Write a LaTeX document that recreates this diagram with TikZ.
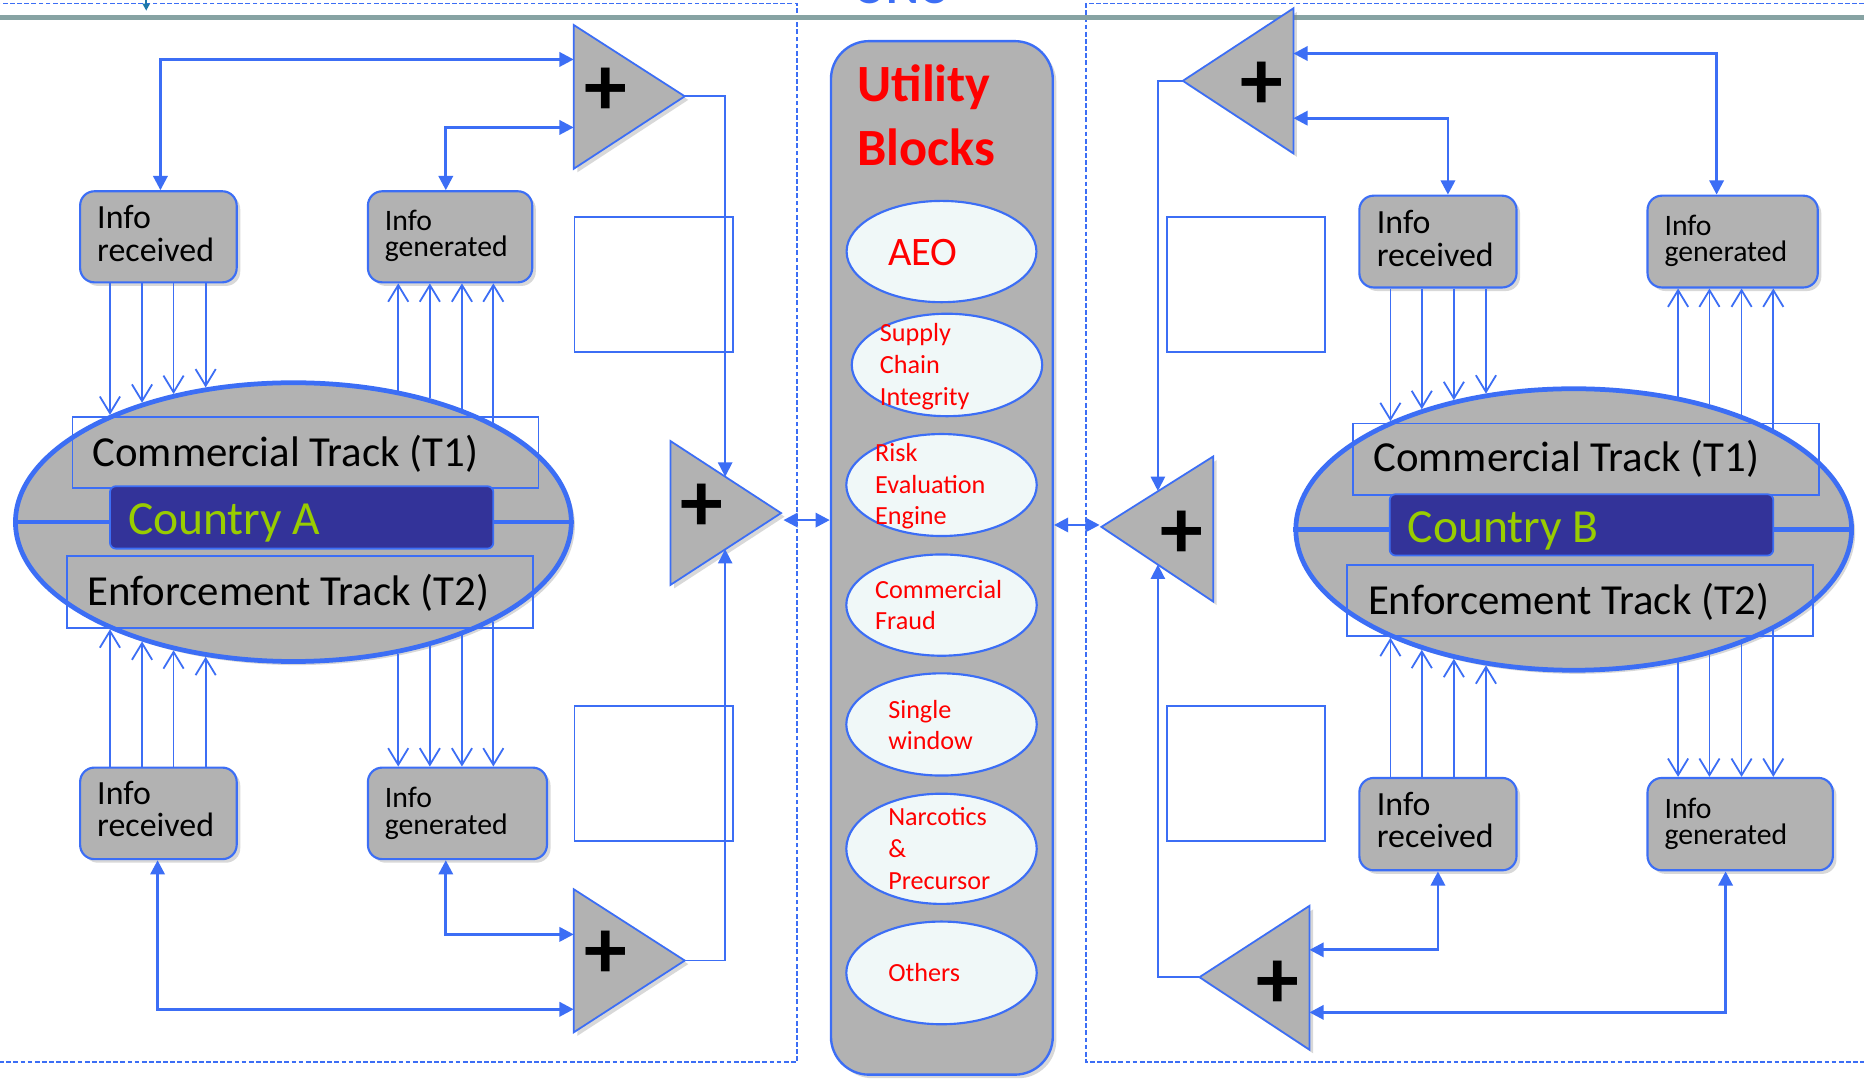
\documentclass[tikz,border=0pt]{standalone}
\usepackage{fontspec}
\setmainfont{Carlito}
\usetikzlibrary{arrows.meta,shadows,shapes.geometric}
\definecolor{lb}{RGB}{60,110,245}
\definecolor{gfill}{RGB}{178,178,178}
\definecolor{navy}{RGB}{51,51,153}
\definecolor{lime}{RGB}{153,204,0}
\definecolor{efill}{RGB}{240,248,248}
\definecolor{topgray}{RGB}{135,163,163}
\definecolor{tealtick}{RGB}{30,120,170}
\begin{document}
\begin{tikzpicture}[x=1pt,y=-1pt,
  shad/.style={drop shadow={shadow xshift=3pt,shadow yshift=-3pt,opacity=0.3}},
  ibox/.style={draw=lb,line width=1.8pt,fill=gfill,rounded corners=12pt,shad,inner sep=0pt},
  trec/.style={draw=lb,line width=1.5pt,inner sep=0pt},
  cbox/.style={draw=lb,line width=1.5pt,fill=navy,rounded corners=5pt,inner sep=0pt},
  bigell/.style={ellipse,draw=lb,line width=4pt,fill=gfill,shad,inner sep=0pt},
  uell/.style={ellipse,draw=lb,line width=1.8pt,fill=efill,inner sep=0pt},
  ubox/.style={draw=lb,line width=2pt,fill=gfill,rounded corners=32pt,shad,inner sep=0pt},
  emptybox/.style={draw=lb,line width=1.5pt,inner sep=0pt},
  tri/.style={draw=lb,line width=1.5pt,fill=gfill,shad},
  plussign/.style={inner sep=0pt,font=\fontsize{72}{72}\selectfont\bfseries},
  dbox/.style={draw=lb,line width=1.2pt,dash pattern=on 4pt off 2pt},
  conn/.style={draw=lb,line width=2.3pt,{Triangle[length=12pt,width=12pt]}-{Triangle[length=12pt,width=12pt]}},
  conn1/.style={draw=lb,line width=1.5pt,-{Triangle[length=12pt,width=12pt]}},
  barb/.style={draw=lb,line width=1.5pt,-{Straight Barb[length=14pt,width=17pt]}},
  itr/.style={anchor=base west,align=left,inner sep=0pt,font=\fontsize{28.5}{27.4}\selectfont},
  itg/.style={anchor=base west,align=left,inner sep=0pt,font=\fontsize{25}{22.3}\selectfont},
  trk/.style={anchor=base west,inner sep=0pt,font=\fontsize{36}{40}\selectfont},
  ctry/.style={anchor=base west,inner sep=0pt,text=lime,font=\fontsize{40}{44}\selectfont},
  utx/.style={anchor=base west,align=left,inner sep=0pt,text=red,font=\fontsize{22}{26.7}\selectfont}
]
\useasboundingbox (0,0) rectangle (1568,908);
\clip (0,0) rectangle (1568,908);
\fill[white] (0,0) rectangle (1568,908);

% frame elements
\draw[dbox] (-10,2.8) rectangle (670.5,893.5);
\draw[dbox] (913.5,2.8) rectangle (1580,893.5);
\node[anchor=base,inner sep=0pt,text=lb,font=\fontsize{42}{42}\selectfont\bfseries] (unc) at (757,3) {UNC};
\draw[topgray,line width=4.2pt] (0,14.7) -- (1568,14.7);
\coordinate (tk1) at (123,-2);
\coordinate (tk2) at (123,9);
\draw[tealtick,line width=1.5pt,-{Triangle[length=6pt,width=6pt]}] (tk1) -- (tk2);

% empty rectangles
\node[emptybox,minimum width=133.5pt,minimum height=113.5pt] (eA1) at (550.1,239.5) {};
\node[emptybox,minimum width=133.5pt,minimum height=113.5pt] (eA2) at (550.1,650.5) {};
\node[emptybox,minimum width=133.5pt,minimum height=113.5pt] (eB1) at (1048.1,239.5) {};
\node[emptybox,minimum width=133.5pt,minimum height=113.5pt] (eB2) at (1048.1,650.5) {};

% utility block
\node[ubox,minimum width=186.6pt,minimum height=869.4pt] (ub) at (792.3,469.3) {};
\node[anchor=base west,align=left,inner sep=0pt,text=red,font=\fontsize{44}{53.3}\selectfont\bfseries] (ubt) at (721,138.8) {Utility\\Blocks};
\node[uell,minimum width=159.7pt,minimum height=85.2pt] (u1) at (792,211.6) {};
\node[uell,minimum width=160.2pt,minimum height=86.2pt] (u2) at (796.6,307) {};
\node[uell,minimum width=160.2pt,minimum height=85.8pt] (u3) at (792,408) {};
\node[uell,minimum width=160.2pt,minimum height=85.2pt] (u4) at (792,509) {};
\node[uell,minimum width=160.2pt,minimum height=86pt] (u5) at (792,609.4) {};
\node[uell,minimum width=160.2pt,minimum height=92.7pt] (u6) at (792,714) {};
\node[uell,minimum width=160.2pt,minimum height=86.4pt] (u7) at (792,818.4) {};
\node[anchor=base west,inner sep=0pt,text=red,font=\fontsize{34}{40}\selectfont] (u1t) at (747,223) {AEO};
\node[utx] (u2t) at (740,340.8) {Supply\\Chain\\Integrity};
\node[utx] (u3t) at (736,441.5) {Risk\\Evaluation\\Engine};
\node[utx] (u4t) at (736,529.8) {Commercial\\Fraud};
\node[utx,font=\fontsize{22}{26}\selectfont] (u5t) at (747,630.6) {Single\\window};
\node[utx,font=\fontsize{22}{27.3}\selectfont] (u6t) at (747,748.6) {Narcotics\\\&\\Precursor};
\node[utx] (u7t) at (747,825.8) {Others};

% country A
\node[bigell,minimum width=467.6pt,minimum height=234.5pt] (eA) at (246.8,439.2) {};
\draw[lb,line width=3.5pt] (eA.west) -- (eA.east);
\node[trec,minimum width=392pt,minimum height=60pt] (tA1) at (257,380.5) {};
\node[trec,minimum width=392pt,minimum height=60pt] (tA2) at (252.5,498) {};
\node[cbox,minimum width=322.5pt,minimum height=52.5pt] (cA) at (253.75,435.25) {};
\node[trk] (tA1t) at (77.6,392.5) {Commercial Track (T1)};
\node[trk] (tA2t) at (73.5,509.2) {Enforcement Track (T2)};
\node[ctry] (cAt) at (107.5,449.3) {Country A};

% country B
\node[bigell,minimum width=467.5pt,minimum height=236.8pt] (eB) at (1323.8,445.4) {};
\draw[lb,line width=3.5pt] (eB.west) -- (eB.east);
\node[trec,minimum width=392pt,minimum height=60pt] (tB1) at (1334,386.25) {};
\node[trec,minimum width=392pt,minimum height=60pt] (tB2) at (1329,505.15) {};
\node[cbox,minimum width=322.7pt,minimum height=51.6pt] (cB) at (1330.35,441.5) {};
\node[trk] (tB1t) at (1155,396.8) {Commercial Track (T1)};
\node[trk] (tB2t) at (1150.6,516.5) {Enforcement Track (T2)};
\node[ctry] (cBt) at (1184,456.5) {Country B};

% info boxes
\node[ibox,minimum width=131.7pt,minimum height=76.6pt] (irA) at (133.25,199.2) {};
\node[ibox,minimum width=138.2pt,minimum height=76.6pt] (igA) at (378.6,199.2) {};
\node[ibox,minimum width=131.7pt,minimum height=77pt] (irA2) at (133.25,684.2) {};
\node[ibox,minimum width=150.6pt,minimum height=77pt] (igA2) at (384.8,684.2) {};
\node[ibox,minimum width=132.2pt,minimum height=77.2pt] (irB) at (1209.6,203.2) {};
\node[ibox,minimum width=143.2pt,minimum height=77.2pt] (igB) at (1457.5,203.2) {};
\node[ibox,minimum width=132.2pt,minimum height=77.7pt] (irB2) at (1209.6,693.25) {};
\node[ibox,minimum width=155.9pt,minimum height=77.7pt] (igB2) at (1463.85,693.25) {};
\node[itr] (irAt) at (81.6,220) {Info\\received};
\node[itg] (igAt) at (323.6,215.8) {Info\\generated};
\node[itr] (irA2t) at (81.6,704) {Info\\received};
\node[itg] (igA2t) at (323.6,701.8) {Info\\generated};
\node[itr] (irBt) at (1158,223.9) {Info\\received};
\node[itg] (igBt) at (1400,220) {Info\\generated};
\node[itr] (irB2t) at (1158,713) {Info\\received};
\node[itg] (igB2t) at (1400,710.6) {Info\\generated};

% triangles
\coordinate (T1a) at (482.6,21);   \coordinate (T1b) at (482.6,142);  \coordinate (T1c) at (576,81);
\coordinate (T2a) at (564,371);    \coordinate (T2b) at (564,492);    \coordinate (T2c) at (657,431.6);
\coordinate (T3a) at (482.6,748);  \coordinate (T3b) at (482.6,868.4);\coordinate (T3c) at (576,808);
\coordinate (T4a) at (1088,7);     \coordinate (T4b) at (1088,129);   \coordinate (T4c) at (995,68);
\coordinate (T5a) at (1020.5,384); \coordinate (T5b) at (1020.5,506); \coordinate (T5c) at (926.5,443.2);
\coordinate (T6a) at (1101.5,762); \coordinate (T6b) at (1101.5,883); \coordinate (T6c) at (1009,822);
\foreach \t in {T1,T2,T3,T4,T5,T6} {\draw[tri] (\t a) -- (\t b) -- (\t c) -- cycle;}
\node[plussign] (p1) at (510,77) {+};
\node[plussign] (p2) at (590,427) {+};
\node[plussign] (p3) at (510,803) {+};
\node[plussign] (p4) at (1061.6,72.4) {+};
\node[plussign] (p5) at (994,450) {+};
\node[plussign] (p6) at (1075,828) {+};

% ellipse boundary points (left)
\coordinate (eAt1) at (92.5,349);   \coordinate (eAt2) at (119.5,338.8);
\coordinate (eAt3) at (146,331.4);  \coordinate (eAt4) at (173,325.9);
\coordinate (eAu1) at (335,328.6);  \coordinate (eAu2) at (361.6,335);
\coordinate (eAu3) at (388.6,343.9);\coordinate (eAu4) at (415,355.6);
\coordinate (eAb1) at (92.5,529.4); \coordinate (eAb2) at (119.5,539.6);
\coordinate (eAb3) at (146,547);    \coordinate (eAb4) at (173,552.5);
\coordinate (eAd1) at (335,549.8);  \coordinate (eAd2) at (361.6,543.4);
\coordinate (eAd3) at (388.6,534.5);\coordinate (eAd4) at (415,522.8);
\foreach \i in {1,2,3,4} {
  \draw[barb] (irA.south -| eAt\i) -- (eAt\i);
  \draw[barb] (eAu\i) -- (igA.south -| eAu\i);
  \draw[barb] (irA2.north -| eAb\i) -- (eAb\i);
  \draw[barb] (eAd\i) -- (igA2.north -| eAd\i);
}
% ellipse boundary points (right)
\coordinate (eBt1) at (1169.6,354.3); \coordinate (eBt2) at (1196,344.2);
\coordinate (eBt3) at (1223,336.6);   \coordinate (eBt4) at (1250,331.1);
\coordinate (eBu1) at (1411.6,333.7); \coordinate (eBu2) at (1438,340.1);
\coordinate (eBu3) at (1465,349);     \coordinate (eBu4) at (1491.7,360.9);
\coordinate (eBb1) at (1169.6,536.5); \coordinate (eBb2) at (1196,546.6);
\coordinate (eBb3) at (1223,554.2);   \coordinate (eBb4) at (1250,559.7);
\coordinate (eBd1) at (1411.6,557.1); \coordinate (eBd2) at (1438,550.7);
\coordinate (eBd3) at (1465,541.8);   \coordinate (eBd4) at (1491.7,529.9);
\foreach \i in {1,2,3,4} {
  \draw[barb] (irB.south -| eBt\i) -- (eBt\i);
  \draw[barb] (eBu\i) -- (igB.south -| eBu\i);
  \draw[barb] (irB2.north -| eBb\i) -- (eBb\i);
  \draw[barb] (eBd\i) -- (igB2.north -| eBd\i);
}

% connectors left
\coordinate (T1i1) at (482.6,50);
\coordinate (T1i2) at (482.6,107.2);
\coordinate (T2i1) at (610,401);
\coordinate (T2i2) at (610,462);
\coordinate (T3i1) at (482.6,786);
\coordinate (T3i2) at (482.6,849);
\coordinate (T2o) at (659,437.5);
\draw[conn] ([xshift=1.7pt]irA.north) |- (T1i1);
\draw[conn] ([xshift=-3.6pt]igA.north) |- (T1i2);
\draw[conn1] (T1c) -| (T2i1);
\draw[conn1] (T3c) -| (T2i2);
\draw[conn] ([xshift=-0.7pt]irA2.south) |- (T3i2);
\draw[conn] ([xshift=-9.8pt]igA2.south) |- (T3i1);
\draw[conn] (T2o) -- (T2o -| ub.west);

% connectors right
\coordinate (T4i1) at (1088,45);
\coordinate (T4i2) at (1088,99.4);
\coordinate (T5i1) at (974,413);
\coordinate (T5i2) at (974,475);
\coordinate (T6i1) at (1101.5,799);
\coordinate (T6i2) at (1101.5,851.6);
\coordinate (T5o) at (925,441.6);
\draw[conn] ([xshift=-13.5pt]igB.north) |- (T4i1);
\draw[conn] ([xshift=8.4pt]irB.north) |- (T4i2);
\draw[conn1] (T4c) -| (T5i1);
\draw[conn1] (T6c) -| (T5i2);
\draw[conn] (irB2.south) |- (T6i1);
\draw[conn] ([xshift=-12.3pt]igB2.south) |- (T6i2);
\draw[conn] (T5o -| ub.east) -- (T5o);
\end{tikzpicture}
\end{document}
